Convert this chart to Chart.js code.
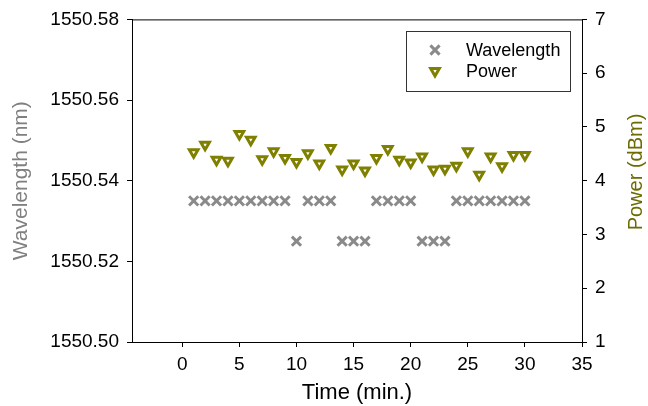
<!DOCTYPE html>
<html>
<head>
<meta charset="utf-8">
<script src="https://cdn.jsdelivr.net/npm/chart.js@4/dist/chart.umd.min.js"></script>
<style>
  html, body { margin: 0; padding: 0; background: #fff; }
  #wrap { width: 648px; height: 406px; }
</style>
</head>
<body>
<div id="wrap"><canvas id="chart" width="648" height="406"></canvas></div>
<script>
// time in minutes
const times = [1, 2, 3, 4, 5, 6, 7, 8, 9, 10, 11, 12, 13, 14, 15,
  16, 17, 18, 19, 20, 21, 22, 23, 24, 25, 26, 27, 28, 29, 30];
// wavelength (nm)
const wavelength = [1550.535, 1550.535, 1550.535, 1550.535, 1550.535, 1550.535, 1550.535, 1550.535, 1550.535, 1550.525,
  1550.535, 1550.535, 1550.535, 1550.525, 1550.525, 1550.525, 1550.535, 1550.535, 1550.535, 1550.535,
  1550.525, 1550.525, 1550.525, 1550.535, 1550.535, 1550.535, 1550.535, 1550.535, 1550.535, 1550.535];
// power (dBm)
const power = [4.53, 4.67, 4.39, 4.37, 4.87, 4.76, 4.40, 4.55, 4.42, 4.35,
  4.51, 4.32, 4.61, 4.21, 4.32, 4.19, 4.42, 4.59, 4.39, 4.34,
  4.45, 4.21, 4.22, 4.28, 4.55, 4.11, 4.45, 4.27, 4.48, 4.48];

const xTicks = [0, 5, 10, 15, 20, 25, 30, 35];
const wlTicks = [1550.50, 1550.52, 1550.54, 1550.56, 1550.58];
const pwTicks = [1, 2, 3, 4, 5, 6, 7];

const FONT = 'Liberation Sans, Arial, Helvetica, sans-serif';
const GRAY = '#8a8a8a';
const OLIVE = '#7f7f00';

const wlStyle = { pointStyle: 'crossRot', radius: 6.5, borderWidth: 3, borderColor: GRAY, backgroundColor: GRAY, rotation: 0 };
const pwStyle = { pointStyle: 'triangle', radius: 5, borderWidth: 3, borderColor: OLIVE, backgroundColor: '#fff', rotation: 180 };

// top frame line, legend box and the right axis title
const extras = {
  id: 'extras',
  afterDraw(chart) {
    const { ctx, chartArea: a } = chart;
    ctx.save();
    ctx.strokeStyle = '#000';
    ctx.lineWidth = 1;
    ctx.beginPath();
    ctx.moveTo(a.left, a.top + 0.5);
    ctx.lineTo(a.right, a.top + 0.5);
    ctx.stroke();

    // legend
    ctx.strokeStyle = '#333';
    ctx.strokeRect(406.5, 31.5, 164, 60);
    const items = [['Wavelength', wlStyle, 50], ['Power', pwStyle, 71]];
    ctx.font = '18px ' + FONT;
    ctx.textBaseline = 'middle';
    ctx.textAlign = 'left';
    ctx.fillStyle = '#000';
    items.forEach(([label, st, y]) => {
      ctx.save();
      ctx.strokeStyle = st.borderColor;
      ctx.fillStyle = st.backgroundColor;
      ctx.lineWidth = st.borderWidth;
      Chart.helpers.drawPoint(ctx, st, 435, y);
      ctx.restore();
      ctx.fillText(label, 466, y + 1);
    });

    // right title, reads bottom to top
    ctx.translate(636, 172);
    ctx.rotate(-Math.PI / 2);
    ctx.font = '20px ' + FONT;
    ctx.fillStyle = '#6b6b00';
    ctx.textAlign = 'center';
    ctx.fillText('Power (dBm)', 0, 0);
    ctx.restore();
  }
};

const setTicks = (vals) => (scale) => { scale.ticks = vals.map(v => ({ value: v })); };

new Chart(document.getElementById('chart'), {
  type: 'scatter',
  data: {
    datasets: [{
      label: 'Wavelength',
      data: times.map((t, i) => ({ x: t, y: wavelength[i] })),
      yAxisID: 'y',
      pointStyle: wlStyle.pointStyle,
      pointRadius: wlStyle.radius,
      pointBorderWidth: wlStyle.borderWidth,
      borderColor: GRAY,
      backgroundColor: GRAY
    }, {
      label: 'Power',
      data: times.map((t, i) => ({ x: t, y: power[i] })),
      yAxisID: 'y1',
      pointStyle: pwStyle.pointStyle,
      pointRadius: pwStyle.radius,
      pointRotation: 180,
      pointBorderWidth: pwStyle.borderWidth,
      borderColor: OLIVE,
      backgroundColor: '#fff'
    }]
  },
  options: {
    responsive: false,
    animation: false,
    layout: { padding: { top: 18, left: 0, right: 0, bottom: 0 } },
    plugins: { legend: { display: false }, tooltip: { enabled: false } },
    scales: {
      x: {
        type: 'linear',
        min: -4.4,
        max: 35,
        afterBuildTicks: setTicks(xTicks),
        afterFit: (s) => { s.height = 64; },
        grid: { drawOnChartArea: false, tickLength: 5, color: '#000' },
        border: { color: '#000' },
        ticks: { color: '#000', font: { family: FONT, size: 19 }, padding: 6, maxRotation: 0 },
        title: { display: true, text: 'Time (min.)', color: '#000', font: { family: FONT, size: 22 }, padding: 0 }
      },
      y: {
        position: 'left',
        min: 1550.50,
        max: 1550.58,
        afterBuildTicks: setTicks(wlTicks),
        afterFit: (s) => { s.width = 132; },
        grid: { drawOnChartArea: false, tickLength: 5, color: '#000' },
        border: { color: '#000' },
        ticks: { color: '#000', font: { family: FONT, size: 19 }, padding: 8, callback: v => v.toFixed(2) },
        title: { display: true, text: 'Wavelength (nm)', color: '#808080', font: { family: FONT, size: 21 }, padding: { top: 9, bottom: 0 } }
      },
      y1: {
        position: 'right',
        min: 1,
        max: 7,
        afterBuildTicks: setTicks(pwTicks),
        afterFit: (s) => { s.width = 66; },
        grid: { drawOnChartArea: false, tickLength: 5, color: '#000' },
        border: { color: '#000' },
        ticks: { color: '#000', font: { family: FONT, size: 19 }, padding: 8 }
      }
    }
  },
  plugins: [extras]
});
</script>
</body>
</html>
